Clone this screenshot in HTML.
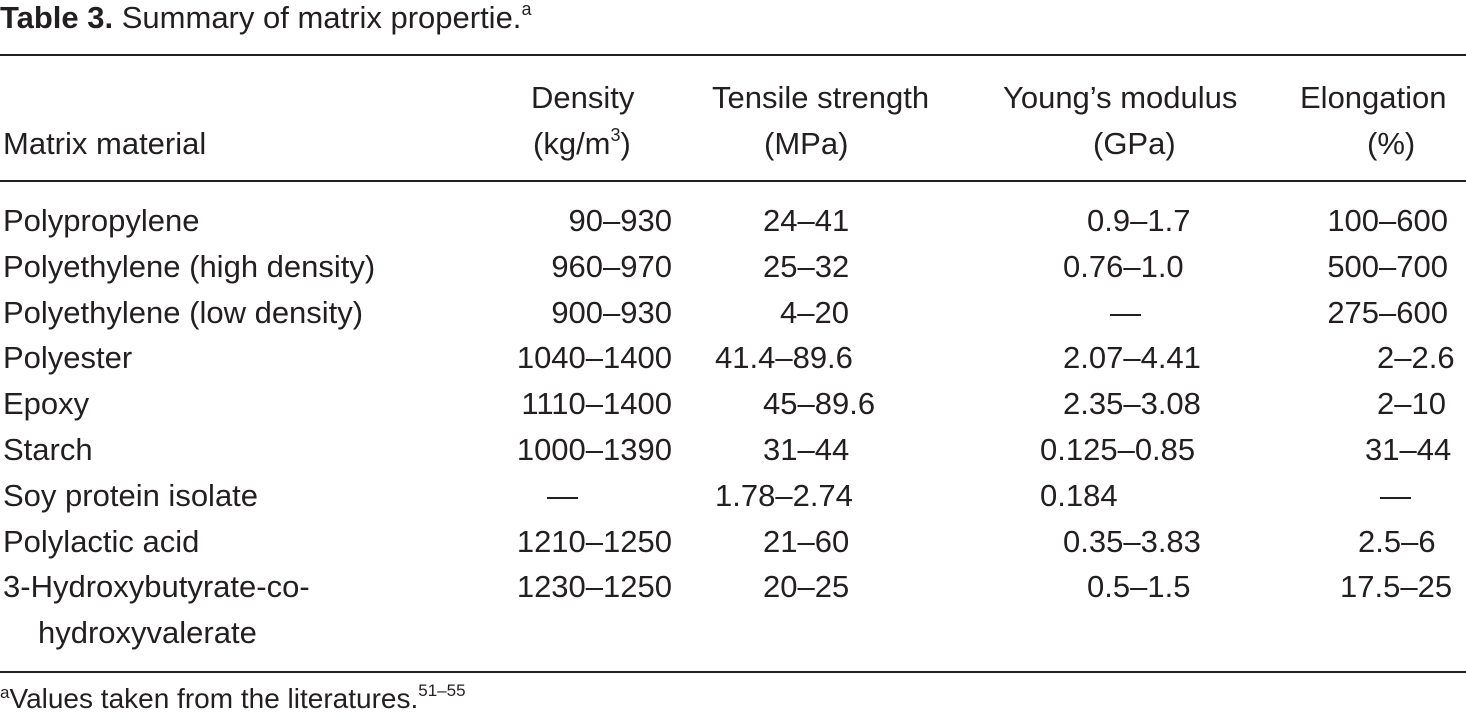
<!DOCTYPE html>
<html><head><meta charset="utf-8"><style>
body{margin:0;width:1466px;height:723px;background:#fff;position:relative;overflow:hidden;font-family:"Liberation Sans",sans-serif;color:#231f20;}
.t{position:absolute;font-size:31px;white-space:nowrap;line-height:1;}
.r{position:absolute;left:0;width:1466px;height:2px;background:#231f20;}
.R{text-align:right;}
sup{font-size:18px;vertical-align:0;position:relative;top:-13px;}
</style></head><body>
<div class="t" style="left:0;top:2px;font-size:31px"><b>Table 3.</b> Summary of matrix propertie.<sup>a</sup></div>
<div class="r" style="top:54px"></div>
<div class="r" style="top:180px"></div>
<div class="r" style="top:671px"></div>

<div class="t" style="left:531px;top:82px">Density</div>
<div class="t" style="left:533px;top:128px">(kg/m<sup>3</sup>)</div>
<div class="t" style="left:3px;top:128px">Matrix material</div>
<div class="t" style="left:712px;top:82px">Tensile strength</div>
<div class="t" style="left:764px;top:128px">(MPa)</div>
<div class="t" style="left:1003px;top:82px">Young’s modulus</div>
<div class="t" style="left:1093px;top:128px">(GPa)</div>
<div class="t" style="left:1300px;top:82px">Elongation</div>
<div class="t" style="left:1367px;top:128px">(%)</div>

<div id="rows"></div>
<script>
var rows=[
["Polypropylene","90–930",763,"24–41",1087,"0.9–1.7","100–600",0],
["Polyethylene (high density)","960–970",763,"25–32",1063,"0.76–1.0","500–700",0],
["Polyethylene (low density)","900–930",780,"4–20",1110,"—","275–600",0],
["Polyester","1040–1400",715,"41.4–89.6",1063,"2.07–4.41","2–2.6",1377],
["Epoxy","1110–1400",763,"45–89.6",1063,"2.35–3.08","2–10",1377],
["Starch","1000–1390",763,"31–44",1040,"0.125–0.85","31–44",1365],
["Soy protein isolate","—",715,"1.78–2.74",1040,"0.184","—",1380],
["Polylactic acid","1210–1250",763,"21–60",1063,"0.35–3.83","2.5–6",1358],
["3-Hydroxybutyrate-co-","1230–1250",763,"20–25",1087,"0.5–1.5","17.5–25",1340]
];
var h="";
rows.forEach(function(r,i){
 var y=Math.round(205+i*45.8);
 h+='<div class="t" style="left:3px;top:'+y+'px">'+r[0]+'</div>';
 if(r[1]=="—") h+='<div class="t" style="left:547px;top:'+y+'px">—</div>';
 else h+='<div class="t R" style="right:'+(1466-672)+'px;top:'+y+'px">'+r[1]+'</div>';
 h+='<div class="t" style="left:'+r[2]+'px;top:'+y+'px">'+r[3]+'</div>';
 h+='<div class="t" style="left:'+r[4]+'px;top:'+y+'px">'+r[5]+'</div>';
 if(r[7]) h+='<div class="t" style="left:'+r[7]+'px;top:'+y+'px">'+r[6]+'</div>';
 else h+='<div class="t R" style="right:18px;top:'+y+'px">'+r[6]+'</div>';
});
h+='<div class="t" style="left:38px;top:'+Math.round(205+9*45.8)+'px">hydroxyvalerate</div>';
document.getElementById("rows").innerHTML=h;
</script>
<div class="t" style="left:0;top:685px;font-size:28px"><sup style="font-size:17px;top:-10px">a</sup>Values taken from the literatures.<sup style="font-size:17px;top:-12px">51–55</sup></div>
</body></html>
